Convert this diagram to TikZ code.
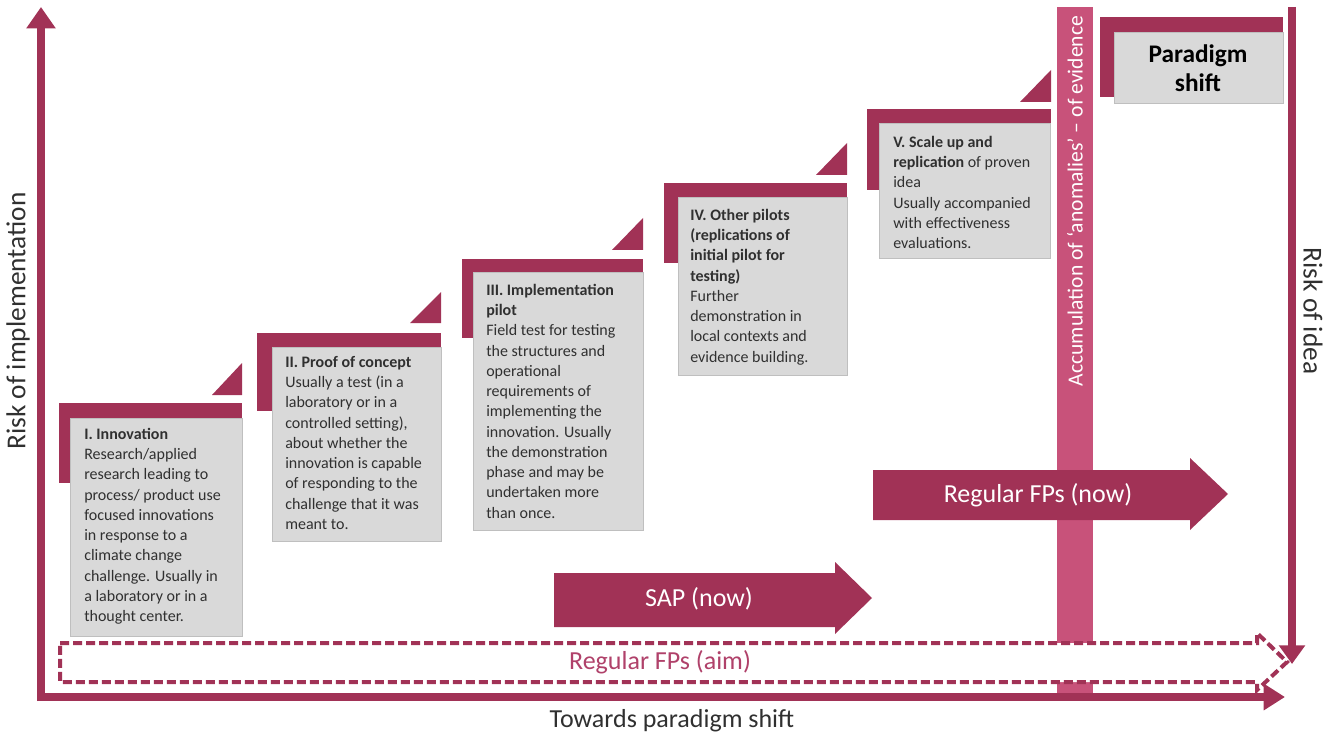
\documentclass[tikz,border=0pt]{standalone}
\usepackage{fontspec}
\setmainfont{Carlito}
\usetikzlibrary{arrows.meta}
\definecolor{crim}{HTML}{A13256}
\definecolor{pinkbar}{HTML}{C8527A}
\definecolor{pinktext}{HTML}{B0416A}
\definecolor{boxgray}{HTML}{D9D9D9}
\definecolor{boxline}{HTML}{BFBFBF}
\definecolor{txt}{HTML}{303030}
\begin{document}
\begin{tikzpicture}[x=0.75pt,y=-0.75pt,
  crimfill/.style={fill=crim,draw=none},
  graybox/.style={fill=boxgray,draw=boxline,line width=0.75pt},
  boxtext/.style={anchor=north west,inner sep=0pt,align=left,text=txt,font=\fontsize{12}{15.2}\selectfont},
  biglabel/.style={inner sep=0pt,text=txt,font=\fontsize{19.5}{22}\selectfont},
  risklabel/.style={inner sep=0pt,text=txt,font=\fontsize{20.5}{22}\selectfont},
  whitelabel/.style={inner sep=0pt,text=white,font=\fontsize{19.5}{22}\selectfont},
  axisline/.style={draw=crim,line width=6pt},
  dashbox/.style={draw=crim,fill=white,line width=3pt,dash pattern=on 6.75pt off 3pt}]
\useasboundingbox (0,0) rectangle (1336,738);

% pink accumulation bar
\fill[pinkbar] (1057,7) rectangle (1093,697);
\node[inner sep=0pt,rotate=90,text=white,font=\fontsize{16.2}{18}\selectfont] (accum) at (1075,201) {Accumulation of ‘anomalies’ – of evidence};

% dashed aim arrow
\draw[dashbox] (60,643) -- (1257,643) -- (1257,633) -- (1287,662) -- (1257,690) -- (1257,682) -- (60,682) -- cycle;
\node[inner sep=0pt,text=pinktext,font=\fontsize{19.5}{22}\selectfont] (aim) at (660,662) {Regular FPs (aim)};

% coordinates for axes
\coordinate (origin) at (41,697);
\coordinate (leftstart) at (41,701);
\coordinate (lefttop) at (41,7);
\coordinate (bottomstart) at (37,697);
\coordinate (bottomend) at (1285,697);
\coordinate (righttop) at (1292,7);
\coordinate (rightend) at (1292,664);

\draw[axisline,-{Triangle[length=16pt,width=21pt]}] (leftstart) -- (lefttop);
\draw[axisline,-{Triangle[length=16pt,width=19pt]}] (bottomstart) -- (bottomend);
\draw[axisline,-{Triangle[length=14pt,width=19pt]}] (righttop) -- (rightend);

\node[risklabel,rotate=90] (riskimpl) at (18,321) {Risk of implementation};
\node[risklabel,rotate=-90] (riskidea) at (1313,311) {Risk of idea};
\node[biglabel] (towards) at (672,721) {Towards paradigm shift};

% SAP arrow
\fill[crim] (554,573) -- (835,573) -- (835,562) -- (872,598) -- (835,634) -- (835,627) -- (554,627) -- cycle;
\node[whitelabel] (sap) at (699,599) {SAP (now)};

% Regular FPs now arrow
\fill[crim] (873,470) -- (1190,470) -- (1190,458) -- (1228,494) -- (1190,530) -- (1190,520) -- (873,520) -- cycle;
\node[whitelabel] (fpnow) at (1038,495) {Regular FPs (now)};

% Step I
\fill[crim] (212,395) -- (242,395) -- (242,363) -- cycle;
\fill[crim] (59,403) rectangle (242,483);
\draw[graybox] (70,418) rectangle (242,636);
\node[boxtext] (s1) at (84,424.3) {\rule{0pt}{11pt}\textbf{I. Innovation}\\Research/applied\\research leading to\\process/ product use\\focused innovations\\in response to a\\climate change\\challenge. Usually in\\a laboratory or in a\\thought center.};

% Step II
\fill[crim] (410,323) -- (441,323) -- (441,292) -- cycle;
\fill[crim] (257,333) rectangle (441,411);
\draw[graybox] (272,347) rectangle (441,541);
\node[boxtext] (s2) at (285,352.3) {\rule{0pt}{11pt}\textbf{II. Proof of concept}\\Usually a test (in a\\laboratory or in a\\controlled setting),\\about whether the\\innovation is capable\\of responding to the\\challenge that it was\\meant to.};

% Step III
\fill[crim] (612,250) -- (643,250) -- (643,218) -- cycle;
\fill[crim] (462,259) rectangle (643,338);
\draw[graybox] (473,273) rectangle (643,530);
\node[boxtext] (s3) at (486,280.3) {\rule{0pt}{11pt}\textbf{III. Implementation}\\\textbf{pilot}\\Field test for testing\\the structures and\\operational\\requirements of\\implementing the\\innovation. Usually\\the demonstration\\phase and may be\\undertaken more\\than once.};

% Step IV
\fill[crim] (816,175) -- (847,175) -- (847,143) -- cycle;
\fill[crim] (664,183) rectangle (847,263);
\draw[graybox] (678,198) rectangle (847,375);
\node[boxtext] (s4) at (690,205.3) {\rule{0pt}{11pt}\textbf{IV. Other pilots}\\\textbf{(replications of}\\\textbf{initial pilot for}\\\textbf{testing)}\\Further\\demonstration in\\local contexts and\\evidence building.};

% Step V
\fill[crim] (1020,102) -- (1051,102) -- (1051,70) -- cycle;
\fill[crim] (867,109) rectangle (1051,190);
\draw[graybox] (879,124) rectangle (1050,259);
\node[boxtext] (s5) at (893,132.3) {\rule{0pt}{11pt}\textbf{V. Scale up and}\\\textbf{replication} of proven\\idea\\Usually accompanied\\with effectiveness\\evaluations.};

% Paradigm shift
\fill[crim] (1100,17) rectangle (1283,97);
\draw[graybox] (1114,33) rectangle (1283,104);
\node[anchor=north,inner sep=0pt,align=center,text=black,font=\bfseries\fontsize{19}{21.75}\selectfont] (ps) at (1198,43.3) {\rule{0pt}{14pt}Paradigm\\shift};
\end{tikzpicture}
\end{document}
